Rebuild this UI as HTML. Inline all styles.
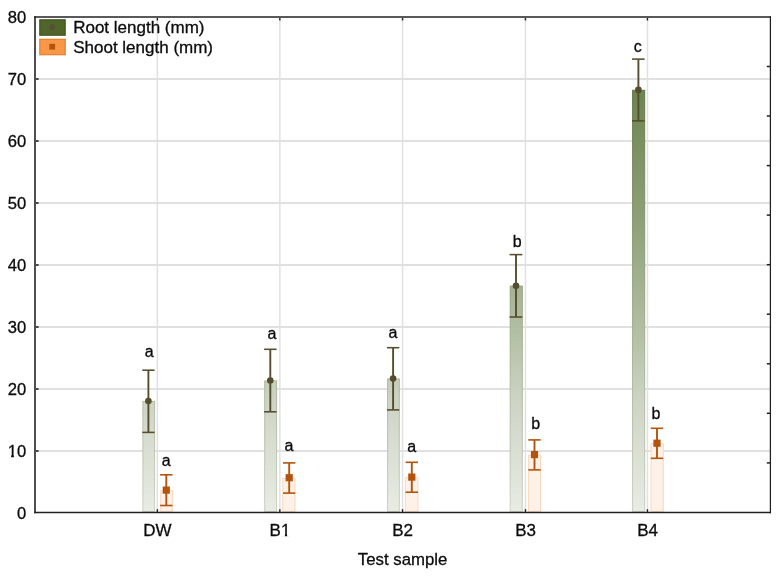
<!DOCTYPE html>
<html><head><meta charset="utf-8"><title>Chart</title>
<style>html,body{margin:0;padding:0;background:#fff}svg{display:block}text{font-family:"Liberation Sans",sans-serif;fill:#0c0c0c;stroke:#0c0c0c;stroke-width:0.3px}</style></head><body>
<svg width="779" height="580" viewBox="0 0 779 580">
<defs>
<linearGradient id="gg" gradientUnits="userSpaceOnUse" x1="0" y1="89.5" x2="0" y2="512.3"><stop offset="0" stop-color="#6d8451"/><stop offset="0.311" stop-color="#8fa078"/><stop offset="0.589" stop-color="#b5c1a6"/><stop offset="0.736" stop-color="#cdd4c4"/><stop offset="1" stop-color="#e8ece4"/></linearGradient>
<linearGradient id="ge" gradientUnits="userSpaceOnUse" x1="0" y1="89.5" x2="0" y2="512.3"><stop offset="0" stop-color="#607746"/><stop offset="0.6" stop-color="#a3b092"/><stop offset="1" stop-color="#c9d0c1"/></linearGradient>
</defs>
<rect width="779" height="580" fill="#fff"/>
<line x1="36" x2="770" y1="451.0" y2="451.0" stroke="#e0e0e0" stroke-width="1.8"/>
<line x1="36" x2="770" y1="389.0" y2="389.0" stroke="#e0e0e0" stroke-width="1.8"/>
<line x1="36" x2="770" y1="327.0" y2="327.0" stroke="#e0e0e0" stroke-width="1.8"/>
<line x1="36" x2="770" y1="265.0" y2="265.0" stroke="#e0e0e0" stroke-width="1.8"/>
<line x1="36" x2="770" y1="203.0" y2="203.0" stroke="#e0e0e0" stroke-width="1.8"/>
<line x1="36" x2="770" y1="141.0" y2="141.0" stroke="#e0e0e0" stroke-width="1.8"/>
<line x1="36" x2="770" y1="79.0" y2="79.0" stroke="#e0e0e0" stroke-width="1.8"/>
<line x1="157.35" x2="157.35" y1="18" y2="511.5" stroke="#e1e1e1" stroke-width="1.5"/>
<line x1="279.85" x2="279.85" y1="18" y2="511.5" stroke="#e1e1e1" stroke-width="1.5"/>
<line x1="402.55" x2="402.55" y1="18" y2="511.5" stroke="#e1e1e1" stroke-width="1.5"/>
<line x1="525.45" x2="525.45" y1="18" y2="511.5" stroke="#e1e1e1" stroke-width="1.5"/>
<line x1="647.45" x2="647.45" y1="18" y2="511.5" stroke="#e1e1e1" stroke-width="1.5"/>
<rect x="142.9" y="401.4" width="11.7" height="110.1" fill="url(#gg)" stroke="url(#ge)" stroke-width="1"/>
<rect x="160.8" y="490.6" width="11.5" height="20.9" fill="#fef0e6" fill-opacity="0.95" stroke="#fad8bf" stroke-width="1"/>
<rect x="264.7" y="380.9" width="11.9" height="130.6" fill="url(#gg)" stroke="url(#ge)" stroke-width="1"/>
<rect x="282.8" y="478.2" width="12.2" height="33.3" fill="#fef0e6" fill-opacity="0.95" stroke="#fad8bf" stroke-width="1"/>
<rect x="387.6" y="378.9" width="11.7" height="132.6" fill="url(#gg)" stroke="url(#ge)" stroke-width="1"/>
<rect x="405.4" y="477.6" width="12.5" height="33.9" fill="#fef0e6" fill-opacity="0.95" stroke="#fad8bf" stroke-width="1"/>
<rect x="510.2" y="286.1" width="12.1" height="225.4" fill="url(#gg)" stroke="url(#ge)" stroke-width="1"/>
<rect x="528.6" y="455.1" width="11.9" height="56.4" fill="#fef0e6" fill-opacity="0.95" stroke="#fad8bf" stroke-width="1"/>
<rect x="632.6" y="90.3" width="12.1" height="421.2" fill="url(#gg)" stroke="url(#ge)" stroke-width="1"/>
<rect x="651.0" y="443.7" width="12.3" height="67.8" fill="#fef0e6" fill-opacity="0.95" stroke="#fad8bf" stroke-width="1"/>
<g stroke="#222" fill="none"><line x1="35.0" x2="35.0" y1="16.2" y2="513.2" stroke-width="1.6"/><line x1="34.2" x2="771" y1="512.5" y2="512.5" stroke-width="1.5"/><line x1="34.15" x2="771" y1="16.9" y2="16.9" stroke-width="1.45"/><line x1="770.4" x2="770.4" y1="16.2" y2="513.2" stroke-width="1.25"/></g>
<line x1="36" x2="38.6" y1="451.0" y2="451.0" stroke="#222" stroke-width="1.6"/>
<line x1="36" x2="38.6" y1="389.0" y2="389.0" stroke="#222" stroke-width="1.6"/>
<line x1="36" x2="38.6" y1="327.0" y2="327.0" stroke="#222" stroke-width="1.6"/>
<line x1="36" x2="38.6" y1="265.0" y2="265.0" stroke="#222" stroke-width="1.6"/>
<line x1="36" x2="38.6" y1="203.0" y2="203.0" stroke="#222" stroke-width="1.6"/>
<line x1="36" x2="38.6" y1="141.0" y2="141.0" stroke="#222" stroke-width="1.6"/>
<line x1="36" x2="38.6" y1="79.0" y2="79.0" stroke="#222" stroke-width="1.6"/>
<line x1="766.8" x2="770" y1="66.5" y2="66.5" stroke="#222" stroke-width="1.5"/>
<line x1="766.8" x2="770" y1="116.0" y2="116.0" stroke="#222" stroke-width="1.5"/>
<line x1="766.8" x2="770" y1="165.6" y2="165.6" stroke="#222" stroke-width="1.5"/>
<line x1="766.8" x2="770" y1="215.1" y2="215.1" stroke="#222" stroke-width="1.5"/>
<line x1="766.8" x2="770" y1="264.7" y2="264.7" stroke="#222" stroke-width="1.5"/>
<line x1="766.8" x2="770" y1="314.2" y2="314.2" stroke="#222" stroke-width="1.5"/>
<line x1="766.8" x2="770" y1="363.8" y2="363.8" stroke="#222" stroke-width="1.5"/>
<line x1="766.8" x2="770" y1="413.3" y2="413.3" stroke="#222" stroke-width="1.5"/>
<line x1="766.8" x2="770" y1="462.9" y2="462.9" stroke="#222" stroke-width="1.5"/>
<line x1="157.35" x2="157.35" y1="509.2" y2="512" stroke="#222" stroke-width="1.4"/>
<line x1="157.35" x2="157.35" y1="18" y2="20.5" stroke="#222" stroke-width="1.4"/>
<line x1="279.85" x2="279.85" y1="509.2" y2="512" stroke="#222" stroke-width="1.4"/>
<line x1="279.85" x2="279.85" y1="18" y2="20.5" stroke="#222" stroke-width="1.4"/>
<line x1="402.55" x2="402.55" y1="509.2" y2="512" stroke="#222" stroke-width="1.4"/>
<line x1="402.55" x2="402.55" y1="18" y2="20.5" stroke="#222" stroke-width="1.4"/>
<line x1="525.45" x2="525.45" y1="509.2" y2="512" stroke="#222" stroke-width="1.4"/>
<line x1="525.45" x2="525.45" y1="18" y2="20.5" stroke="#222" stroke-width="1.4"/>
<line x1="647.45" x2="647.45" y1="509.2" y2="512" stroke="#222" stroke-width="1.4"/>
<line x1="647.45" x2="647.45" y1="18" y2="20.5" stroke="#222" stroke-width="1.4"/>
<g stroke="#554d2e" stroke-width="1.9" fill="#554d2e"><line x1="148.4" x2="148.4" y1="370.2" y2="432.4"/><line x1="142.3" x2="154.6" y1="370.2" y2="370.2" stroke-width="1.55"/><line x1="142.3" x2="154.6" y1="432.4" y2="432.4" stroke-width="1.55"/><circle cx="148.4" cy="401.0" r="3.3" stroke="none"/></g>
<g stroke="#b3540e" stroke-width="1.9" fill="#b3540e"><line x1="166.3" x2="166.3" y1="474.8" y2="505.5"/><line x1="160.1" x2="172.5" y1="474.8" y2="474.8" stroke-width="1.6"/><line x1="160.1" x2="172.5" y1="505.5" y2="505.5" stroke-width="1.6"/><rect x="162.7" y="486.5" width="7.2" height="7.2" stroke="none"/></g>
<g stroke="#554d2e" stroke-width="1.9" fill="#554d2e"><line x1="270.3" x2="270.3" y1="349.3" y2="411.8"/><line x1="264.1" x2="276.6" y1="349.3" y2="349.3" stroke-width="1.55"/><line x1="264.1" x2="276.6" y1="411.8" y2="411.8" stroke-width="1.55"/><circle cx="270.3" cy="380.5" r="3.3" stroke="none"/></g>
<g stroke="#b3540e" stroke-width="1.9" fill="#b3540e"><line x1="289.2" x2="289.2" y1="462.9" y2="493.1"/><line x1="283.0" x2="295.4" y1="462.9" y2="462.9" stroke-width="1.6"/><line x1="283.0" x2="295.4" y1="493.1" y2="493.1" stroke-width="1.6"/><rect x="285.6" y="474.1" width="7.2" height="7.2" stroke="none"/></g>
<g stroke="#554d2e" stroke-width="1.9" fill="#554d2e"><line x1="393.1" x2="393.1" y1="347.7" y2="409.9"/><line x1="387.0" x2="399.3" y1="347.7" y2="347.7" stroke-width="1.55"/><line x1="387.0" x2="399.3" y1="409.9" y2="409.9" stroke-width="1.55"/><circle cx="393.1" cy="378.5" r="3.3" stroke="none"/></g>
<g stroke="#b3540e" stroke-width="1.9" fill="#b3540e"><line x1="411.8" x2="411.8" y1="462.3" y2="492.2"/><line x1="405.6" x2="418.0" y1="462.3" y2="462.3" stroke-width="1.6"/><line x1="405.6" x2="418.0" y1="492.2" y2="492.2" stroke-width="1.6"/><rect x="408.2" y="473.5" width="7.2" height="7.2" stroke="none"/></g>
<g stroke="#554d2e" stroke-width="1.9" fill="#554d2e"><line x1="516.0" x2="516.0" y1="254.6" y2="317.0"/><line x1="509.6" x2="522.3" y1="254.6" y2="254.6" stroke-width="1.55"/><line x1="509.6" x2="522.3" y1="317.0" y2="317.0" stroke-width="1.55"/><circle cx="516.0" cy="285.7" r="3.3" stroke="none"/></g>
<g stroke="#b3540e" stroke-width="1.9" fill="#b3540e"><line x1="534.5" x2="534.5" y1="439.9" y2="469.9"/><line x1="528.3" x2="540.7" y1="439.9" y2="439.9" stroke-width="1.6"/><line x1="528.3" x2="540.7" y1="469.9" y2="469.9" stroke-width="1.6"/><rect x="530.9" y="451.0" width="7.2" height="7.2" stroke="none"/></g>
<g stroke="#554d2e" stroke-width="1.9" fill="#554d2e"><line x1="638.4" x2="638.4" y1="59.1" y2="120.9"/><line x1="632.0" x2="644.7" y1="59.1" y2="59.1" stroke-width="1.55"/><line x1="632.0" x2="644.7" y1="120.9" y2="120.9" stroke-width="1.55"/><circle cx="638.4" cy="89.9" r="3.3" stroke="none"/></g>
<g stroke="#b3540e" stroke-width="1.9" fill="#b3540e"><line x1="657.0" x2="657.0" y1="428.3" y2="458.3"/><line x1="650.8" x2="663.2" y1="428.3" y2="428.3" stroke-width="1.6"/><line x1="650.8" x2="663.2" y1="458.3" y2="458.3" stroke-width="1.6"/><rect x="653.4" y="439.6" width="7.2" height="7.2" stroke="none"/></g>
<text x="149.2" y="357.3" font-size="16" text-anchor="middle">a</text>
<text x="271.9" y="338.5" font-size="16" text-anchor="middle">a</text>
<text x="393.0" y="337.9" font-size="16" text-anchor="middle">a</text>
<text x="517.2" y="247.0" font-size="16" text-anchor="middle">b</text>
<text x="637.7" y="51.7" font-size="16" text-anchor="middle">c</text>
<text x="166.3" y="466.1" font-size="16" text-anchor="middle">a</text>
<text x="289.0" y="451.3" font-size="16" text-anchor="middle">a</text>
<text x="411.7" y="451.5" font-size="16" text-anchor="middle">a</text>
<text x="535.8" y="429.0" font-size="16" text-anchor="middle">b</text>
<text x="656.0" y="418.5" font-size="16" text-anchor="middle">b</text>
<text x="26.3" y="518.5" font-size="16.6" text-anchor="end">0</text>
<text x="26.3" y="456.5" font-size="16.6" text-anchor="end">10</text>
<text x="26.3" y="394.5" font-size="16.6" text-anchor="end">20</text>
<text x="26.3" y="332.5" font-size="16.6" text-anchor="end">30</text>
<text x="26.3" y="270.5" font-size="16.6" text-anchor="end">40</text>
<text x="26.3" y="208.5" font-size="16.6" text-anchor="end">50</text>
<text x="26.3" y="146.5" font-size="16.6" text-anchor="end">60</text>
<text x="26.3" y="84.5" font-size="16.6" text-anchor="end">70</text>
<text x="26.3" y="22.5" font-size="16.6" text-anchor="end">80</text>
<text x="157.45" y="536.4" font-size="17" text-anchor="middle">DW</text>
<text x="279.95000000000005" y="536.4" font-size="17" text-anchor="middle">B1</text>
<text x="402.65000000000003" y="536.4" font-size="17" text-anchor="middle">B2</text>
<text x="525.5500000000001" y="536.4" font-size="17" text-anchor="middle">B3</text>
<text x="647.5500000000001" y="536.4" font-size="17" text-anchor="middle">B4</text>
<g fill="#fff"><rect x="8" y="454.4" width="3.1" height="3.4"/><rect x="13.9" y="454.4" width="3" height="3.4"/><rect x="281.2" y="533.4" width="3.7" height="3.4"/><rect x="287.1" y="533.4" width="3.6" height="3.4"/></g>
<text x="402.6" y="564.7" font-size="16.8" text-anchor="middle">Test sample</text>
<rect x="39.8" y="19.8" width="25.4" height="15.4" fill="#4f6529" stroke="#435823" stroke-width="1.2"/>
<circle cx="52.3" cy="27.3" r="3.0" fill="#594e38"/>
<rect x="39.8" y="39.3" width="25.4" height="15.4" fill="#f79747" stroke="#e77f2b" stroke-width="1.2"/>
<rect x="49.3" y="43.8" width="5.8" height="5.8" fill="#b3540e"/>
<text x="73.2" y="33.2" font-size="17">Root length (mm)</text>
<text x="73.2" y="52.7" font-size="17">Shoot length (mm)</text>
</svg></body></html>
